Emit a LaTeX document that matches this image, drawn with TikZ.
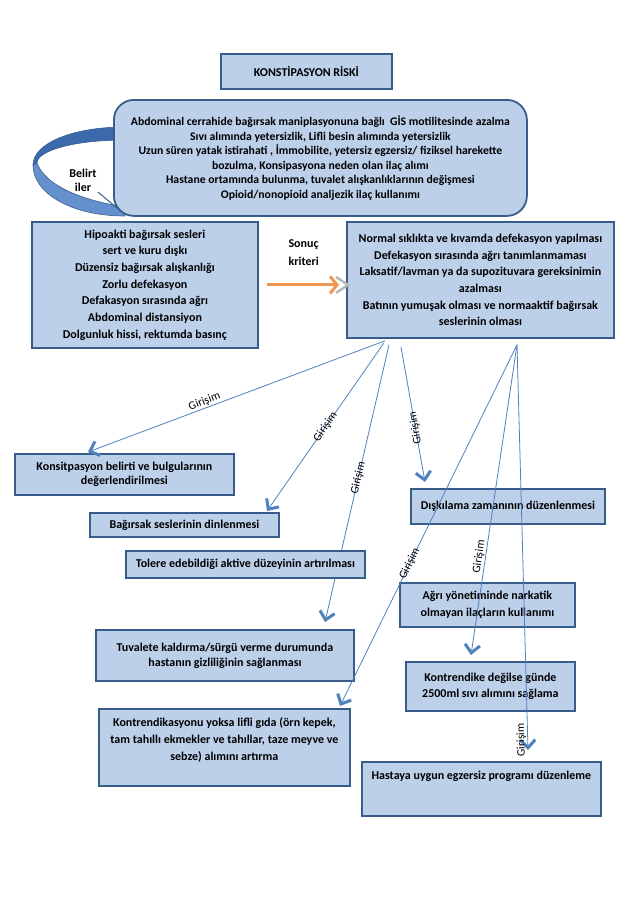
\documentclass[tikz,border=0pt]{standalone}
\usepackage{fontspec}
\setmainfont{Carlito}
\usetikzlibrary{positioning,arrows.meta}

\definecolor{boxfill}{RGB}{188,208,234}
\definecolor{boxline}{RGB}{56,93,138}
\definecolor{linkblue}{RGB}{79,129,189}
\definecolor{ribbonback}{RGB}{60,105,172}
\definecolor{ribbonfront}{RGB}{100,145,205}
\definecolor{sonucorange}{RGB}{240,150,80}

\pgfdeclarelayer{behind}
\pgfsetlayers{behind,main}

\tikzset{
  box/.style={draw=boxline, line width=1.8pt, fill=boxfill, anchor=north west, align=center,
    inner sep=2pt, font=\bfseries\fontsize{12}{16.5}\selectfont},
  spacing/.style={font=\bfseries\fontsize{12}{#1}\selectfont},
  link/.style={draw=linkblue, line width=0.8pt, -{Straight Barb[length=8pt,width=15pt,line width=3pt]}},
  girisim/.style={font=\fontsize{11.5}{12}\selectfont, inner sep=1pt},
}

\begin{document}
\begin{tikzpicture}[x=1pt,y=-1pt]
\useasboundingbox (0,0) rectangle (638,903);

\filldraw[fill=ribbonback, draw=boxline, line width=0.6pt] (125,127) .. controls (71,127) and (33,144) .. (33,165)
  -- (37,163) .. controls (37,151) and (73,140) .. (125,140) -- cycle;
\filldraw[fill=ribbonfront, draw=boxline, line width=0.6pt] (33,165) .. controls (33,193) and (71,216) .. (125,216)
  -- (125,207) .. controls (80,200) and (45,185) .. (37,163) -- cycle;

\node[box, minimum width=171pt, minimum height=35pt] (risk) at (220,53) {KONSTİPASYON RİSKİ};
\node[box, rounded corners=20pt, minimum width=413pt, minimum height=116pt,
  font=\bfseries\fontsize{11.7}{14.5}\selectfont] (factors) at (113,99)
  {Abdominal cerrahide bağırsak maniplasyonuna bağlı\ \ GİS motilitesinde azalma\\
   Sıvı alımında yetersizlik, Lifli besin alımında yetersizlik\\
   Uzun süren yatak istirahati , İmmobilite, yetersiz egzersiz/ fiziksel harekette\\
   bozulma, Konsipasyona neden olan ilaç alımı\\
   Hastane ortamında bulunma, tuvalet alışkanlıklarının değişmesi\\
   Opioid/nonopioid analjezik ilaç kullanımı};

\node[font=\bfseries\fontsize{12}{14}\selectfont, align=center] (belirt) at (83,180) {Belirt\\iler};
\coordinate (ribbonend) at (117,208);
\draw[boxline, line width=1pt] (98,192) -- (ribbonend);

\node[box, spacing=16.7, minimum width=226pt, minimum height=126pt] (signs) at (31,221)
  {Hipoakti bağırsak sesleri\\ sert ve kuru dışkı\\ Düzensiz bağırsak alışkanlığı\\ Zorlu defekasyon\\
   Defakasyon sırasında ağrı\\ Abdominal distansiyon\\ Dolgunluk hissi, rektumda basınç};
\node[box, spacing=16.7, minimum width=267pt, minimum height=116pt] (criteria) at (346,221)
  {Normal sıklıkta ve kıvamda defekasyon yapılması\\ Defekasyon sırasında ağrı tanımlanmaması\\
   Laksatif/lavman ya da supozituvara gereksinimin\\ azalması\\
   Batının yumuşak olması ve normaaktif bağırsak\\ seslerinin olması};

\node[font=\bfseries\fontsize{12}{18}\selectfont, align=left, anchor=north west] (sonuc) at (285,236) {Sonuç\\kriteri};
\coordinate (tipO) at ([xshift=-7pt,yshift=-5pt]criteria.west);
\coordinate (tipG) at ([xshift=2pt,yshift=-5pt]criteria.west);
\draw[gray!55, line width=2.6pt] ([xshift=-12pt,yshift=8pt]tipG) -- (tipG) -- ([xshift=-12pt,yshift=-8pt]tipG);
\draw[sonucorange, line width=3pt, -{Straight Barb[length=7pt,width=17pt]}] ([xshift=8pt]signs.east) -- (tipO);

\node[box, spacing=13.5, minimum width=219pt, minimum height=41pt] (i1) at (14,453)
  {Konsitpasyon belirti ve bulgularının\\ değerlendirilmesi};
\node[box, minimum width=189pt, minimum height=24pt] (i2) at (89,512) {Bağırsak seslerinin dinlenmesi};
\node[box, minimum width=239pt, minimum height=27pt] (i3) at (125,550) {Tolere edebildiği aktive düzeyinin artırılması};
\node[box, spacing=15, minimum width=258pt, minimum height=51pt] (i4) at (95,629)
  {Tuvalete kaldırma/sürgü verme durumunda\\ hastanın gizliliğinin sağlanması};
\node[box, spacing=17, minimum width=251pt, minimum height=77pt] (i5) at (98,708)
  {Kontrendikasyonu yoksa lifli gıda (örn kepek,\\ tam tahıllı ekmekler ve tahıllar, taze meyve ve\\
   sebze) alımını artırma\\ \mbox{}};
\node[box, minimum width=194pt, minimum height=35pt] (i6) at (410,488) {Dışkılama zamanının düzenlenmesi};
\node[box, minimum width=175pt, minimum height=44pt] (i7) at (399,582) {Ağrı yönetiminde narkatik\\ olmayan ilaçların kullanımı};
\node[box, minimum width=169pt, minimum height=49pt] (i8) at (405,661) {Kontrendike değilse günde\\ 2500ml sıvı alımını sağlama};
\node[box, minimum width=239pt, minimum height=54pt] (i9) at (361,761) {Hastaya uygun egzersiz programı düzenleme\\[10pt] \mbox{}};

\draw[link] ([xshift=39pt,yshift=-2pt]criteria.south west) -- node[girisim, sloped, above, pos=0.6] {Girişim} ([xshift=74pt,yshift=1pt]i1.north west);
\draw[link] ([xshift=38pt,yshift=-4pt]criteria.south west) -- node[girisim, sloped, pos=0.5] {Girişim} ([xshift=178pt,yshift=1pt]i2.north west);
\begin{pgfonlayer}{behind}
\draw[link] ([xshift=43pt,yshift=-6pt]criteria.south west) -- node[girisim, sloped, pos=0.48] {Girişim} ([xshift=230pt,yshift=7pt]i4.north west);
\end{pgfonlayer}
\draw[link] ([xshift=55pt,yshift=-8pt]criteria.south west) -- node[girisim, rotate=100, pos=0.6] {Girişim} ([xshift=15pt,yshift=6pt]i6.north west);
\draw[link] ([xshift=171pt,yshift=-6pt]criteria.south west) -- node[girisim, sloped, pos=0.606] {Girişim} ([xshift=242pt,yshift=2pt]i5.north west);
\draw[link] ([xshift=171pt,yshift=-6pt]criteria.south west) -- node[girisim, sloped, above, pos=0.686] {Girişim} ([xshift=66pt,yshift=6pt]i8.north west);
\draw[link] ([xshift=171pt,yshift=-6pt]criteria.south west) -- node[girisim, rotate=91.5, above, pos=0.975] {Girişim} ([xshift=167pt,yshift=11pt]i9.north west);

\end{tikzpicture}
\end{document}
